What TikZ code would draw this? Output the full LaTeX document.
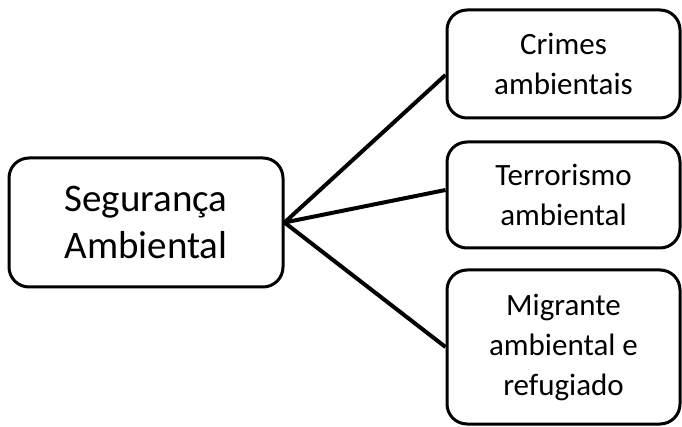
\documentclass[tikz,border=0pt]{standalone}
\usepackage{fontspec}
\setmainfont{Carlito}
\usepackage{tikz}
\tikzstyle{maintopic}=[rectangle,
	rounded corners=20pt,
	line width=3pt,
	draw=black,
	align=center,
	inner sep=0pt,
	minimum width=274pt,
	minimum height=129pt,
	font=\fontsize{39}{47}\selectfont]
\tikzstyle{subtopic}=[rectangle,
	rounded corners=20pt,
	line width=3pt,
	draw=black,
	align=center,
	inner sep=0pt,
	minimum width=233pt,
	font=\fontsize{31}{40}\selectfont]
\tikzstyle{branch}=[line width=4pt,
	draw=black]
\begin{document}
\begin{tikzpicture}[x=1pt,y=-1pt]
	\useasboundingbox (0,0) rectangle (682,427);
	\node (seguranca) [maintopic] at (146,222.5) {Segurança\\Ambiental};

	\node (crimes) [subtopic, minimum height=108pt] at (563.5,64) {Crimes\\ambientais};
	\node (terrorismo) [subtopic, minimum height=106pt] at (563.5,195) {Terrorismo\\ambiental};
	\node (migrante) [subtopic, minimum height=154pt] at (563.5,347) {Migrante\\ambiental e\\refugiado};

	\draw [branch] (seguranca.east) -- ([yshift=-11pt]crimes.west);
	\draw [branch] (seguranca.east) -- ([yshift=5pt]terrorismo.west);
	\draw [branch] (seguranca.east) -- (migrante.west);
\end{tikzpicture}
\end{document}
